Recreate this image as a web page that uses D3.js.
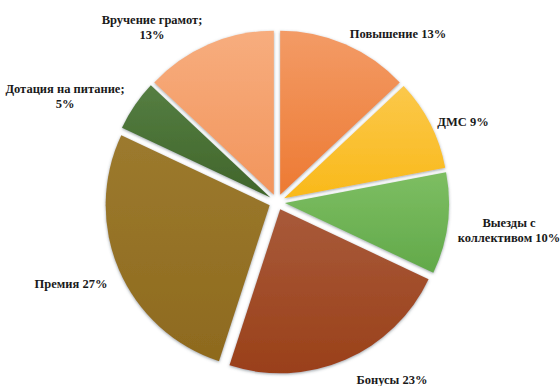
<!DOCTYPE html>
<html>
<head>
<meta charset="utf-8">
<script src="https://cdn.jsdelivr.net/npm/d3@7"></script>
<style>
  html, body { margin: 0; padding: 0; background: #fff; }
  svg { display: block; }
</style>
</head>
<body>
<svg id="chart" width="560" height="386"></svg>
<script>
// Share of each incentive measure, percent (clockwise from 12 o'clock)
const categories = ["Повышение", "ДМС", "Выезды с коллективом", "Бонусы", "Премия", "Дотация на питание", "Вручение грамот"];
const values = [13, 9, 10, 23, 27, 5, 13];
// Label text lines for each slice
const labelLines = [
  ["Повышение 13%"],
  ["ДМС 9%"],
  ["Выезды с", "коллективом 10%"],
  ["Бонусы 23%"],
  ["Премия 27%"],
  ["Дотация на питание;", "5%"],
  ["Вручение грамот;", "13%"]
];
// Slice colours: [lighter top, base bottom]
const colors = [
  ["#F39B66", "#ED7A33"],
  ["#FBC84A", "#F9B91A"],
  ["#7DBE62", "#62A94A"],
  ["#A85A3A", "#9A4019"],
  ["#9C7A2E", "#8E6A1E"],
  ["#557E42", "#40652A"],
  ["#F7AD7E", "#F2955C"]
];
// Label anchor points (centre of text block)
const labelPos = [
  [398, 34], [463, 122], [509, 230], [392, 380], [71, 284], [65, 96], [152, 27]
];

const svg = d3.select("#chart");
const cx = 277, cy = 202, r = 164, explode = 8;

const defs = svg.append("defs");
const shadow = defs.append("filter").attr("id", "shadow")
  .attr("x", "-20%").attr("y", "-20%").attr("width", "140%").attr("height", "140%");
shadow.append("feDropShadow")
  .attr("dx", 0).attr("dy", 1).attr("stdDeviation", 1.6)
  .attr("flood-color", "#4a5560").attr("flood-opacity", 0.55);

colors.forEach((c, i) => {
  const g = defs.append("linearGradient").attr("id", "grad" + i)
    .attr("x1", 0).attr("y1", 0).attr("x2", 0).attr("y2", 1);
  g.append("stop").attr("offset", "0%").attr("stop-color", c[0]);
  g.append("stop").attr("offset", "100%").attr("stop-color", c[1]);
});

const pie = d3.pie().sort(null).value(d => d)(values);
const arc = d3.arc().innerRadius(0).outerRadius(r);

const g = svg.append("g").attr("transform", `translate(${cx},${cy})`);

g.selectAll("path.slice").data(pie).join("path")
  .attr("class", "slice")
  .attr("d", arc)
  .attr("fill", (d, i) => `url(#grad${i})`)
  .attr("filter", "url(#shadow)")
  .attr("transform", d => {
    const a = (d.startAngle + d.endAngle) / 2;
    return `translate(${Math.sin(a) * explode},${-Math.cos(a) * explode})`;
  });

const lh = 14.5;
labelLines.forEach((lines, i) => {
  const [x, y] = labelPos[i];
  const t = svg.append("text")
    .attr("font-family", "'Liberation Serif', 'Times New Roman', serif")
    .attr("font-weight", "bold")
    .attr("font-size", "12.5px")
    .attr("fill", "#1a1a1a")
    .attr("text-anchor", "middle");
  const y0 = y - (lines.length - 1) * lh / 2;
  lines.forEach((line, j) => {
    t.append("tspan").attr("x", x).attr("y", y0 + j * lh).attr("dy", "0.35em").text(line);
  });
});
</script>
</body>
</html>
